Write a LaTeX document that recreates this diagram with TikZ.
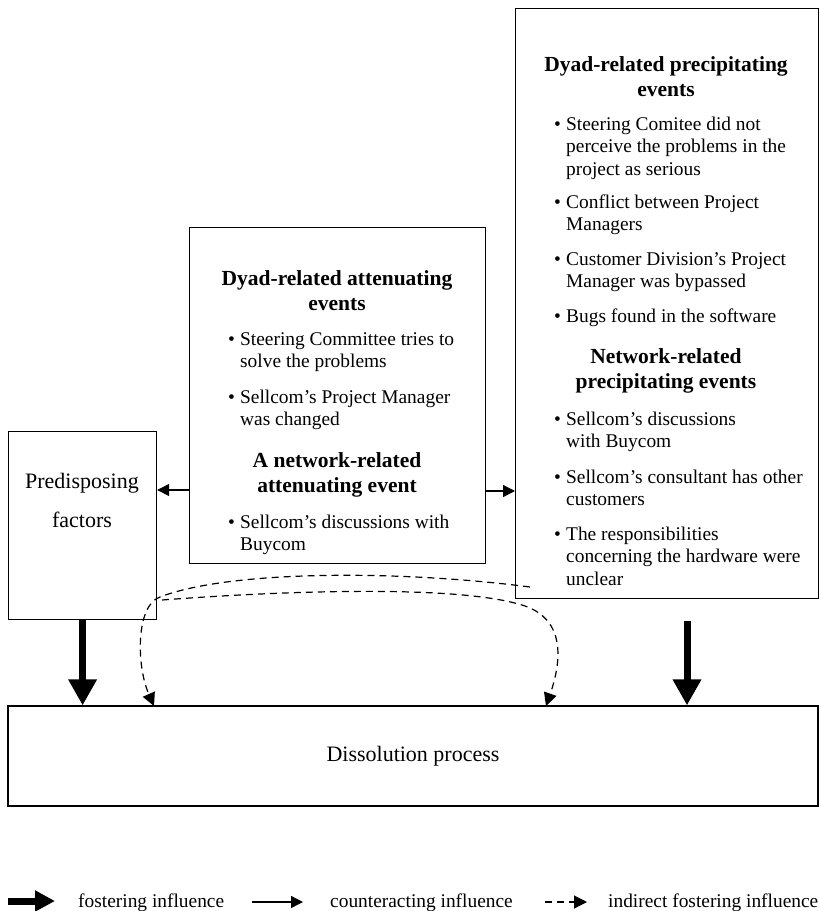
\documentclass[tikz,border=0pt]{standalone}
\usepackage{fontspec}
\setmainfont{Liberation Serif}
\usetikzlibrary{arrows.meta}

% font sizes
\newcommand{\bodysize}{\fontsize{19.4}{22.5}\selectfont}
\newcommand{\headsize}{\fontsize{21.5}{25}\selectfont\bfseries}
\newcommand{\labelsize}{\fontsize{22}{39}\selectfont}
% bulleted paragraph with hanging indent
\newcommand{\bpar}[1]{\begin{tabular}[t]{@{}l@{}l@{}}\makebox[12pt][l]{\textbullet}&#1\end{tabular}}
% centred heading
\newcommand{\hpar}[1]{\begin{tabular}[t]{@{}c@{}}#1\end{tabular}}

\tikzset{
  box/.style={draw, line width=1.2pt, inner sep=0pt, anchor=north west},
  txt/.style={inner sep=0pt, font=\bodysize, anchor=base west},
  head/.style={inner sep=0pt, font=\headsize, anchor=base},
  fostering/.style={line width=7pt, -{Triangle[length=26pt,width=27pt]}},
  counter/.style={line width=1.3pt, -{Triangle[length=12pt,width=12pt]}},
  indirect/.style={line width=1.2pt, dash pattern=on 7pt off 5pt, -{Triangle[length=13pt,width=13pt]}},
}

\begin{document}
\begin{tikzpicture}[x=1pt,y=-1pt]
\useasboundingbox (0,0) rectangle (819,911);

% ---- boxes
\node[box, minimum width=303pt, minimum height=590pt] (prec) at (515,8) {};
\node[box, minimum width=296pt, minimum height=336pt] (att) at (189,227) {};
\node[box, minimum width=148pt, minimum height=188pt] (pre) at (8,431) {};
\node[box, minimum width=810pt, minimum height=100pt, anchor=center,
      font=\labelsize] (dis) at (413,756) {Dissolution process};

% ---- predisposing factors
\node[inner sep=0pt, font=\labelsize, anchor=base] (pretxt) at (82,488)
  {\hpar{Predisposing\\factors}};

% ---- precipitating events
\node[head] (ph1) at (666,71) {\hpar{Dyad-related precipitating\\events}};
\node[txt] (p1) at (554,130) {\bpar{Steering Comitee did not\\ & perceive the problems in the\\ & project as serious}};
\node[txt] (p2) at (554,208) {\bpar{Conflict between Project\\ & Managers}};
\node[txt] (p3) at (554,265) {\bpar{Customer Division’s Project\\ & Manager was bypassed}};
\node[txt] (p4) at (554,322) {\bpar{Bugs found in the software}};
\node[head] (ph2) at (666,363) {\hpar{Network-related\\precipitating events}};
\node[txt] (p5) at (554,425) {\bpar{Sellcom’s discussions\\ & with Buycom}};
\node[txt] (p6) at (554,483) {\bpar{Sellcom’s consultant has other\\ & customers}};
\node[txt] (p7) at (554,540) {\bpar{The responsibilities\\ & concerning the hardware were\\ & unclear}};

% ---- attenuating events
\node[head] (ah1) at (337,285) {\hpar{Dyad-related attenuating\\events}};
\node[txt] (a1) at (228,345) {\bpar{Steering Committee tries to\\ & solve the problems}};
\node[txt] (a2) at (228,403) {\bpar{Sellcom’s Project Manager\\ & was changed}};
\node[head] (ah2) at (337,467) {\hpar{A network-related\\attenuating event}};
\node[txt] (a3) at (228,528) {\bpar{Sellcom’s discussions with\\ & Buycom}};

% ---- counteracting influences
\coordinate (yl) at (0,490);
\coordinate (yr) at (0,491);
\draw[counter] (yl -| att.west) -- (yl -| pre.east);
\draw[counter] (yr -| att.east) -- (yr -| prec.west);

% ---- fostering influences
\coordinate (fr) at (687,621);
\draw[fostering] (pre.south) -- (pre.south |- dis.north);
\draw[fostering] (fr) -- (fr |- dis.north);

% ---- indirect fostering influences
\coordinate (i1s) at (530,587);
\coordinate (i1e) at (154,706);
\coordinate (i2s) at (162,600);
\coordinate (i2e) at (546,706);
\draw[indirect] (i1s) .. controls (400,570) and (230,570) .. (160,597)
  .. controls (136,605) and (136,665) .. (i1e);
\draw[indirect] (i2s) .. controls (280,591) and (460,584) .. (525,606)
  .. controls (565,620) and (562,660) .. (i2e);

% ---- legend
\coordinate (l1a) at (8,901);   \coordinate (l1b) at (55,901);
\coordinate (l2a) at (252,902); \coordinate (l2b) at (303,902);
\coordinate (l3a) at (545,902); \coordinate (l3b) at (587,902);
\draw[line width=7pt, -{Triangle[length=20pt,width=20pt]}] (l1a) -- (l1b);
\draw[counter] (l2a) -- (l2b);
\draw[indirect] (l3a) -- (l3b);
\node[txt] (t1) at (78,907) {fostering influence};
\node[txt] (t2) at (330,907) {counteracting influence};
\node[txt] (t3) at (608,907) {indirect fostering influence};
\end{tikzpicture}
\end{document}
